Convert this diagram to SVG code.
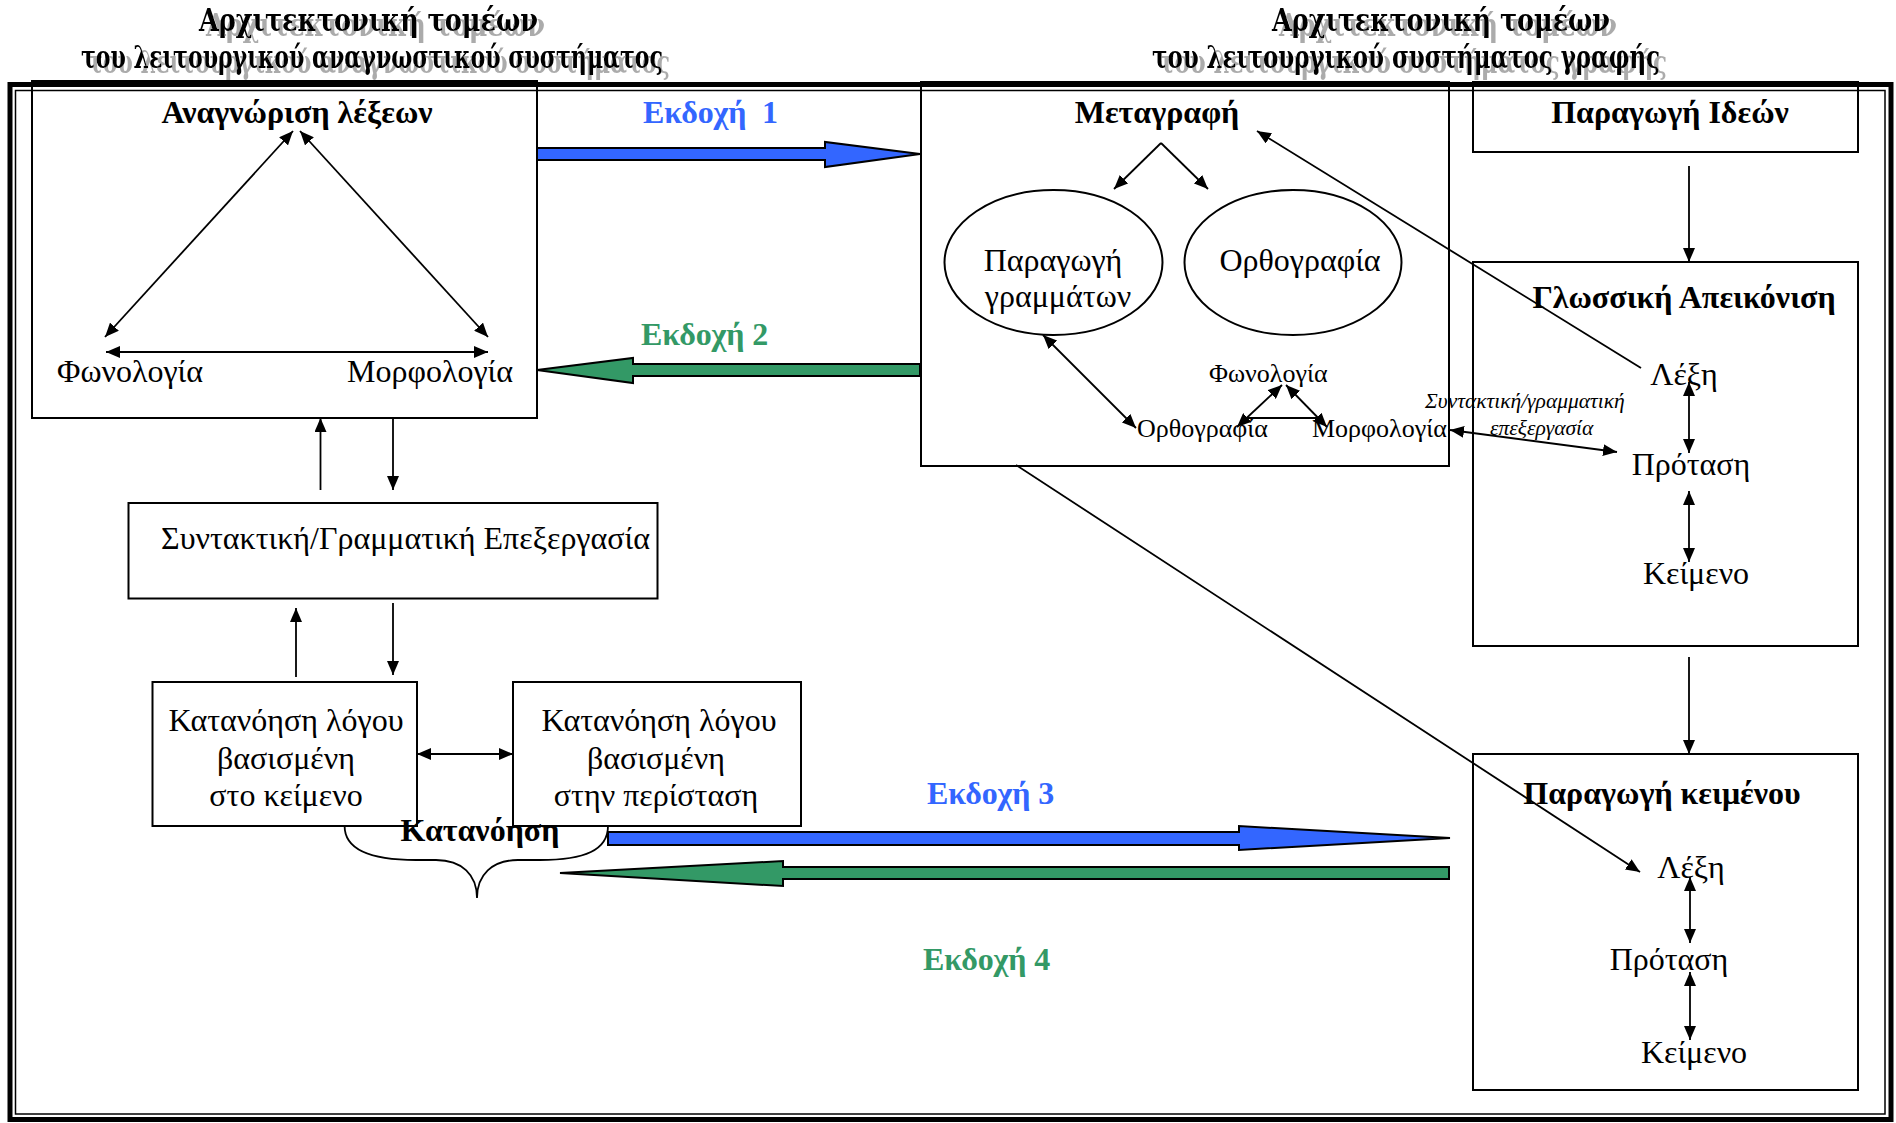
<svg xmlns="http://www.w3.org/2000/svg" width="1896" height="1123" viewBox="0 0 1896 1123">
<defs>
<style>
.box{fill:none;stroke:#000;stroke-width:2}
.ell{fill:none;stroke:#000;stroke-width:2}
.frame1{fill:none;stroke:#000;stroke-width:5}
.frame2{fill:none;stroke:#000;stroke-width:1.5}
.ln{fill:none;stroke:#000;stroke-width:1.8}
.t{font-family:"Liberation Serif","Times New Roman",serif;font-size:32px;fill:#000}
.b{font-family:"Liberation Serif","Times New Roman",serif;font-size:32px;font-weight:bold;fill:#000}
.s{font-family:"Liberation Serif","Times New Roman",serif;font-size:26px;fill:#000}
.i{font-family:"Liberation Serif","Times New Roman",serif;font-size:21.5px;font-style:italic;fill:#000}
.ttl{font-family:"DejaVu Serif","Liberation Serif",serif;font-size:31px;font-weight:bold;fill:#000;filter:url(#shadow)}
.blue{fill:#3366FF}
.green{fill:#339966}
.barrow{stroke:#000;stroke-width:2;stroke-linejoin:miter}
.c{text-anchor:middle}
</style>
<filter id="shadow" x="-5%" y="-30%" width="115%" height="170%">
<feOffset in="SourceAlpha" dx="7" dy="5" result="off"/>
<feFlood flood-color="#ababab"/>
<feComposite in2="off" operator="in" result="sh"/>
<feMerge><feMergeNode in="sh"/><feMergeNode in="SourceGraphic"/></feMerge>
</filter>
<marker id="ah" viewBox="0 0 14 12" refX="14" refY="6" markerWidth="14" markerHeight="12" orient="auto-start-reverse" markerUnits="userSpaceOnUse">
<path d="M0,0 L14,6 L0,12 z" fill="#000"/>
</marker>
</defs>
<rect width="1896" height="1123" fill="#fff"/>

<g id="titles">
<text class="ttl" x="199" y="31" textLength="339" lengthAdjust="spacingAndGlyphs">Αρχιτεκτονική τομέων</text>
<text class="ttl" x="81" y="68" textLength="582" lengthAdjust="spacingAndGlyphs">του λειτουργικού αναγνωστικού συστήματος</text>
<text class="ttl" x="1272" y="31" textLength="338" lengthAdjust="spacingAndGlyphs">Αρχιτεκτονική τομέων</text>
<text class="ttl" x="1152" y="68" textLength="508" lengthAdjust="spacingAndGlyphs">του λειτουργικού συστήματος γραφής</text>
</g>

<g id="frame">
<rect class="frame1" x="10" y="84.5" width="1881" height="1035"/>
<rect class="frame2" x="15.5" y="90.5" width="1869.5" height="1023.5"/>
</g>

<g id="node-anagnorisi">
<rect class="box" x="32" y="81" width="505" height="337"/>
<text class="b c" x="297" y="123">Αναγνώριση λέξεων</text>
<text class="t" x="57" y="382">Φωνολογία</text>
<text class="t" x="347" y="382">Μορφολογία</text>
</g>

<g id="node-metagrafi">
<rect class="box" x="921" y="82" width="528" height="384"/>
<text class="b c" x="1157" y="123">Μεταγραφή</text>
<ellipse class="ell" cx="1053.5" cy="262.5" rx="109" ry="72.5"/>
<text class="t c" x="1053" y="271">Παραγωγή</text>
<text class="t c" x="1058" y="307">γραμμάτων</text>
<ellipse class="ell" cx="1293" cy="262.5" rx="108.5" ry="72.5"/>
<text class="t c" x="1300" y="271">Ορθογραφία</text>
<text class="s" x="1209" y="382">Φωνολογία</text>
<text class="s" x="1137" y="437">Ορθογραφία</text>
<text class="s" x="1312" y="437">Μορφολογία</text>
</g>

<g id="node-ideon">
<rect class="box" x="1473" y="82" width="385" height="70"/>
<text class="b c" x="1670" y="123">Παραγωγή Ιδεών</text>
</g>

<g id="node-glossiki">
<rect class="box" x="1473" y="262" width="385" height="384"/>
<text class="b c" x="1684" y="308">Γλωσσική Απεικόνιση</text>
<text class="t c" x="1684" y="385">Λέξη</text>
<text class="t c" x="1691" y="475">Πρόταση</text>
<text class="t c" x="1696" y="584">Κείμενο</text>
</g>

<g id="node-paragogi-keimenou">
<rect class="box" x="1473" y="754" width="385" height="336"/>
<text class="b c" x="1662" y="804">Παραγωγή κειμένου</text>
<text class="t c" x="1691" y="878">Λέξη</text>
<text class="t c" x="1669" y="970">Πρόταση</text>
<text class="t c" x="1694" y="1063">Κείμενο</text>
</g>

<g id="node-syntaktiki">
<rect class="box" x="128.5" y="503" width="529" height="95.5"/>
<text class="t" x="161" y="549">Συντακτική/Γραμματική Επεξεργασία</text>
</g>

<g id="node-katanoisi-keimeno">
<rect class="box" x="152.5" y="682" width="264.5" height="144"/>
<text class="t c" x="286" y="731">Κατανόηση λόγου</text>
<text class="t c" x="286" y="769">βασισμένη</text>
<text class="t c" x="286" y="806">στο κείμενο</text>
</g>

<g id="node-katanoisi-peristasi">
<rect class="box" x="513" y="682" width="288" height="144"/>
<text class="t c" x="659" y="731">Κατανόηση λόγου</text>
<text class="t c" x="656" y="769">βασισμένη</text>
<text class="t c" x="656" y="806">στην περίσταση</text>
</g>

<g id="node-katanoisi">
<path class="ln" d="M344.6,826 C344.6,850 370,860 416,860 L436,860 C462,860 477,875 477,898 C477,875 492,860 518,860 L540,860 C585,860 608,850 608,826"/>
<text class="b c" x="480" y="841">Κατανόηση</text>
</g>

<g id="connectors">
<line class="ln" x1="293" y1="131" x2="105" y2="337" marker-start="url(#ah)" marker-end="url(#ah)"/>
<line class="ln" x1="300" y1="131" x2="488" y2="337" marker-start="url(#ah)" marker-end="url(#ah)"/>
<line class="ln" x1="106" y1="352" x2="488" y2="352" marker-start="url(#ah)" marker-end="url(#ah)"/>
<line class="ln" x1="320.5" y1="490" x2="320.5" y2="418" marker-end="url(#ah)"/>
<line class="ln" x1="393" y1="418" x2="393" y2="490" marker-end="url(#ah)"/>
<line class="ln" x1="296" y1="677" x2="296" y2="608" marker-end="url(#ah)"/>
<line class="ln" x1="393" y1="603" x2="393" y2="675" marker-end="url(#ah)"/>
<line class="ln" x1="417" y1="754" x2="513" y2="754" marker-start="url(#ah)" marker-end="url(#ah)"/>
<line class="ln" x1="1161" y1="143" x2="1114" y2="189" marker-end="url(#ah)"/>
<line class="ln" x1="1161" y1="143" x2="1208" y2="189" marker-end="url(#ah)"/>
<line class="ln" x1="1043" y1="335" x2="1136" y2="428" marker-start="url(#ah)" marker-end="url(#ah)"/>
<line class="ln" x1="1282" y1="385" x2="1237" y2="427" marker-start="url(#ah)" marker-end="url(#ah)"/>
<line class="ln" x1="1286" y1="385" x2="1327" y2="427" marker-start="url(#ah)" marker-end="url(#ah)"/>
<line class="ln" x1="1246" y1="418" x2="1318" y2="418"/>
<line class="ln" x1="1450" y1="430" x2="1617" y2="452" marker-start="url(#ah)" marker-end="url(#ah)"/>
<text class="i" x="1425" y="408">Συντακτική/γραμματική</text>
<text class="i" x="1490" y="435">επεξεργασία</text>
<line class="ln" x1="1641" y1="368" x2="1257" y2="131" marker-end="url(#ah)"/>
<line class="ln" x1="1016" y1="465" x2="1640" y2="872" marker-end="url(#ah)"/>
<line class="ln" x1="1689" y1="166" x2="1689" y2="262" marker-end="url(#ah)"/>
<line class="ln" x1="1689" y1="382" x2="1689" y2="453" marker-start="url(#ah)" marker-end="url(#ah)"/>
<line class="ln" x1="1689" y1="491" x2="1689" y2="562" marker-start="url(#ah)" marker-end="url(#ah)"/>
<line class="ln" x1="1689" y1="657" x2="1689" y2="754" marker-end="url(#ah)"/>
<line class="ln" x1="1690" y1="877" x2="1690" y2="943" marker-start="url(#ah)" marker-end="url(#ah)"/>
<line class="ln" x1="1690" y1="972" x2="1690" y2="1040" marker-start="url(#ah)" marker-end="url(#ah)"/>

<polygon class="blue barrow" points="537,148 825,148 825,142 920,154 825,167 825,160 537,160"/>
<text class="b blue" x="643" y="123">Εκδοχή<tspan x="762">1</tspan></text>
<polygon class="green barrow" points="920,364 633,364 633,358 537,370 633,383 633,376 920,376"/>
<text class="b green" x="641" y="345">Εκδοχή 2</text>
<polygon class="blue barrow" points="608,832 1239,832 1239,826 1450,838 1239,850 1239,845 608,845"/>
<text class="b blue" x="927" y="804">Εκδοχή 3</text>
<polygon class="green barrow" points="1449,867 783,867 783,861 560,873 783,886 783,879 1449,879"/>
<text class="b green" x="923" y="970">Εκδοχή 4</text>
</g>
</svg>
